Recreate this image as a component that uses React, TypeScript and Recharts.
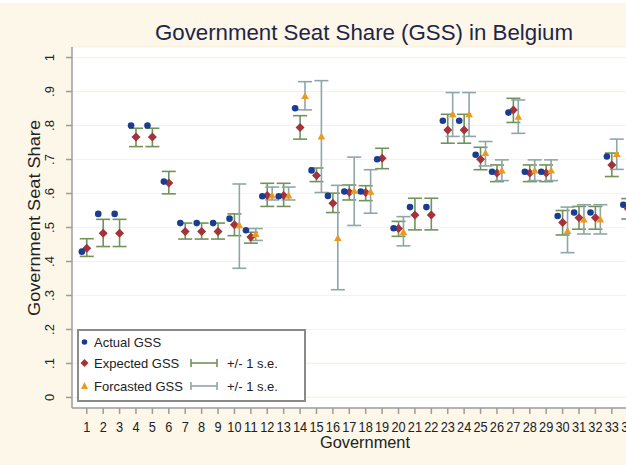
import React from 'react';
import { ScatterChart, Scatter, XAxis, YAxis, CartesianGrid, ErrorBar, Legend } from 'recharts';

// government number (34 is cut off at the right edge in the reference)
const governments = [1, 2, 3, 4, 5, 6, 7, 8, 9, 10, 11, 12, 13, 14, 15, 16, 17, 18, 19, 20, 21, 22, 23, 24, 25, 26, 27, 28, 29, 30, 31, 32, 33, 34];

const actualGss = [0.429, 0.54, 0.54, 0.8, 0.8, 0.635, 0.513, 0.513, 0.513, 0.526, 0.492, 0.592, 0.592, 0.851, 0.668, 0.593, 0.606, 0.606, 0.701, 0.498, 0.56, 0.56, 0.814, 0.814, 0.714, 0.664, 0.838, 0.664, 0.664, 0.534, 0.544, 0.544, 0.709, 0.567];

const expectedGss = [0.439, 0.483, 0.483, 0.766, 0.766, 0.631, 0.488, 0.488, 0.488, 0.508, 0.472, 0.594, 0.594, 0.794, 0.653, 0.571, 0.604, 0.603, 0.704, 0.497, 0.537, 0.537, 0.787, 0.787, 0.701, 0.66, 0.846, 0.66, 0.66, 0.515, 0.529, 0.529, 0.684, 0.555];
const expectedLow = [0.415, 0.444, 0.444, 0.738, 0.738, 0.599, 0.466, 0.466, 0.466, 0.476, 0.454, 0.562, 0.562, 0.76, 0.635, 0.544, 0.581, 0.579, 0.673, 0.474, 0.493, 0.493, 0.748, 0.748, 0.67, 0.635, 0.809, 0.635, 0.635, 0.478, 0.495, 0.495, 0.65, 0.525];
const expectedHigh = [0.467, 0.524, 0.524, 0.792, 0.792, 0.665, 0.513, 0.513, 0.513, 0.54, 0.486, 0.63, 0.63, 0.829, 0.675, 0.601, 0.625, 0.623, 0.733, 0.518, 0.586, 0.586, 0.833, 0.833, 0.736, 0.684, 0.88, 0.684, 0.684, 0.55, 0.562, 0.562, 0.719, 0.585];

const forecastGss = [null, null, null, null, null, null, null, null, null, 0.507, 0.481, 0.594, 0.594, 0.887, 0.768, 0.469, 0.608, 0.605, null, 0.487, null, null, 0.833, 0.833, 0.719, 0.668, 0.826, 0.668, 0.668, 0.49, 0.524, 0.524, 0.716, 0.55];
const forecastLow = [null, null, null, null, null, null, null, null, null, 0.38, 0.462, 0.581, 0.581, 0.846, 0.603, 0.317, 0.506, 0.542, null, 0.446, null, null, 0.768, 0.768, 0.681, 0.638, 0.777, 0.638, 0.638, 0.426, 0.481, 0.481, 0.671, 0.51];
const forecastHigh = [null, null, null, null, null, null, null, null, null, 0.628, 0.497, 0.619, 0.619, 0.929, 0.932, 0.624, 0.707, 0.67, null, 0.532, null, null, 0.897, 0.897, 0.753, 0.699, 0.875, 0.699, 0.699, 0.56, 0.567, 0.567, 0.76, 0.59];

const yTicks = [0, 0.1, 0.2, 0.3, 0.4, 0.5, 0.6, 0.7, 0.8, 0.9, 1];
const yTickLabels = ['0', '.1', '.2', '.3', '.4', '.5', '.6', '.7', '.8', '.9', '1'];

const FONT = '"Liberation Sans", Arial, Helvetica, sans-serif';
const BG = '#fdf7ea';
const GRID = '#fbf1dc';
const AXIS = '#9c9c9c';
const BLUE = '#1b3d8f';
const RED = '#a3323a';
const ORANGE = '#eb9a1e';
const GREEN = '#71935a';
const GREY_BAR = '#8da7a8';

// horizontal shift of the actual / forecast markers around each government
const SHIFT = 0.3;

const actualData = governments.map((g, i) => ({ x: g - SHIFT, y: actualGss[i] }));
const expectedData = governments.map((g, i) => ({
  x: g,
  y: expectedGss[i],
  err: [expectedGss[i] - expectedLow[i], expectedHigh[i] - expectedGss[i]],
}));
const forecastData = governments.flatMap((g, i) => {
  const v = forecastGss[i];
  if (v == null) return [];
  return [{ x: g + SHIFT, y: v, err: [v - (forecastLow[i] as number), (forecastHigh[i] as number) - v] }];
});

const DotShape = (p: any) => <circle cx={p.cx} cy={p.cy} r={3.3} fill={BLUE} />;
const DiamondShape = (p: any) => {
  const s = 4.5;
  return <path d={`M${p.cx},${p.cy - s}L${p.cx + s},${p.cy}L${p.cx},${p.cy + s}L${p.cx - s},${p.cy}Z`} fill={RED} />;
};
const TriangleShape = (p: any) => {
  const s = 3.8;
  return <path d={`M${p.cx},${p.cy - s}L${p.cx + s},${p.cy + s * 0.8}L${p.cx - s},${p.cy + s * 0.8}Z`} fill={ORANGE} />;
};

const XTick = (props: any) => {
  const label = String(props.payload.value);
  return (
    <text x={props.x} y={props.y + 16} textAnchor="middle" fontSize={15} fontFamily={FONT} fill="#222"
      textLength={label.length * 7.1} lengthAdjust="spacingAndGlyphs">
      {label}
    </text>
  );
};

const YTick = (props: any) => {
  const idx = yTicks.indexOf(props.payload.value);
  return (
    <text transform={`translate(${props.x},${props.y}) rotate(-90)`} textAnchor="middle" fontSize={13}
      fontFamily={FONT} fill="#222">
      {yTickLabels[idx]}
    </text>
  );
};

const ErrSymbol = ({ x, y, color }: { x: number; y: number; color: string }) => (
  <g stroke={color} strokeWidth={1.6}>
    <line x1={x} y1={y} x2={x + 26} y2={y} />
    <line x1={x} y1={y - 4} x2={x} y2={y + 4} />
    <line x1={x + 26} y1={y - 4} x2={x + 26} y2={y + 4} />
  </g>
);

const renderLegend = () => (
  <svg width={229} height={73} style={{ display: 'block', fontFamily: FONT }}>
    <rect x={1} y={1} width={227} height={71} fill="#fff" stroke="#8a8a8a" strokeWidth={2} />
    <circle cx={7.5} cy={13} r={2.8} fill={BLUE} />
    <text x={17} y={17.5} fontSize={13} fill="#222">Actual GSS</text>
    <path d="M7.5,30L11.5,34L7.5,38L3.5,34Z" fill={RED} />
    <text x={17} y={38.5} fontSize={13} fill="#222">Expected GSS</text>
    <ErrSymbol x={114} y={34} color={GREEN} />
    <text x={150} y={38.5} fontSize={13} fill="#222">+/- 1 s.e.</text>
    <path d="M7.5,53L11,60L4,60Z" fill={ORANGE} />
    <text x={17} y={61.5} fontSize={13} fill="#222">Forcasted GSS</text>
    <ErrSymbol x={114} y={57} color={GREY_BAR} />
    <text x={150} y={61.5} fontSize={13} fill="#222">+/- 1 s.e.</text>
  </svg>
);

export default function App() {
  return (
    <div style={{ position: 'absolute', left: 0, top: 0, width: 626, height: 465, overflow: 'hidden', background: BG, borderTop: '3px solid #fff', boxSizing: 'border-box' }}>
      <div style={{ position: 'absolute', left: 0, top: -3 }}>
        <ScatterChart width={643} height={465} margin={{ top: 47, right: 0, bottom: 0, left: 0 }}>
          <CartesianGrid vertical={false} stroke={GRID} strokeWidth={1.2} fill="#fff" />
          <XAxis type="number" dataKey="x" domain={[0.1, 34.9]} ticks={governments} interval={0}
            allowDataOverflow height={57} stroke={AXIS} strokeWidth={1.5} tickSize={6} tickMargin={2}
            tickLine={{ stroke: AXIS, strokeWidth: 1.5 }} tick={<XTick />} />
          <YAxis type="number" dataKey="y" domain={[-0.031, 1.031]} ticks={yTicks} interval={0}
            allowDataOverflow width={72} stroke={AXIS} strokeWidth={1.5} tickSize={6} tickMargin={12}
            tickLine={{ stroke: AXIS, strokeWidth: 1.5 }} tick={<YTick />} />
          <Legend layout="horizontal" verticalAlign="middle" content={renderLegend}
            wrapperStyle={{ left: 77, top: 329, width: 229, height: 73 }} />
          <Scatter name="Expected GSS" data={expectedData} shape={DiamondShape} isAnimationActive={false}>
            <ErrorBar dataKey="err" direction="y" width={7} stroke={GREEN} strokeWidth={1.6} />
          </Scatter>
          <Scatter name="Forcasted GSS" data={forecastData} shape={TriangleShape} isAnimationActive={false}>
            <ErrorBar dataKey="err" direction="y" width={7} stroke={GREY_BAR} strokeWidth={1.6} />
          </Scatter>
          <Scatter name="Actual GSS" data={actualData} shape={DotShape} isAnimationActive={false} />
        </ScatterChart>
      </div>
      <svg width={626} height={465} style={{ position: 'absolute', left: 0, top: -3, pointerEvents: 'none', fontFamily: FONT }}>
        <text x={155} y={40} fontSize={22} fill="#1e2546" textLength={418} lengthAdjust="spacingAndGlyphs">
          Government Seat Share (GSS) in Belgium
        </text>
        <text transform="translate(40,218) rotate(-90)" textAnchor="middle" fontSize={17} fill="#222"
          textLength={196} lengthAdjust="spacingAndGlyphs">
          Government Seat Share
        </text>
        <text x={365} y={448} textAnchor="middle" fontSize={16} fill="#222" textLength={90} lengthAdjust="spacingAndGlyphs">
          Government
        </text>
      </svg>
    </div>
  );
}
